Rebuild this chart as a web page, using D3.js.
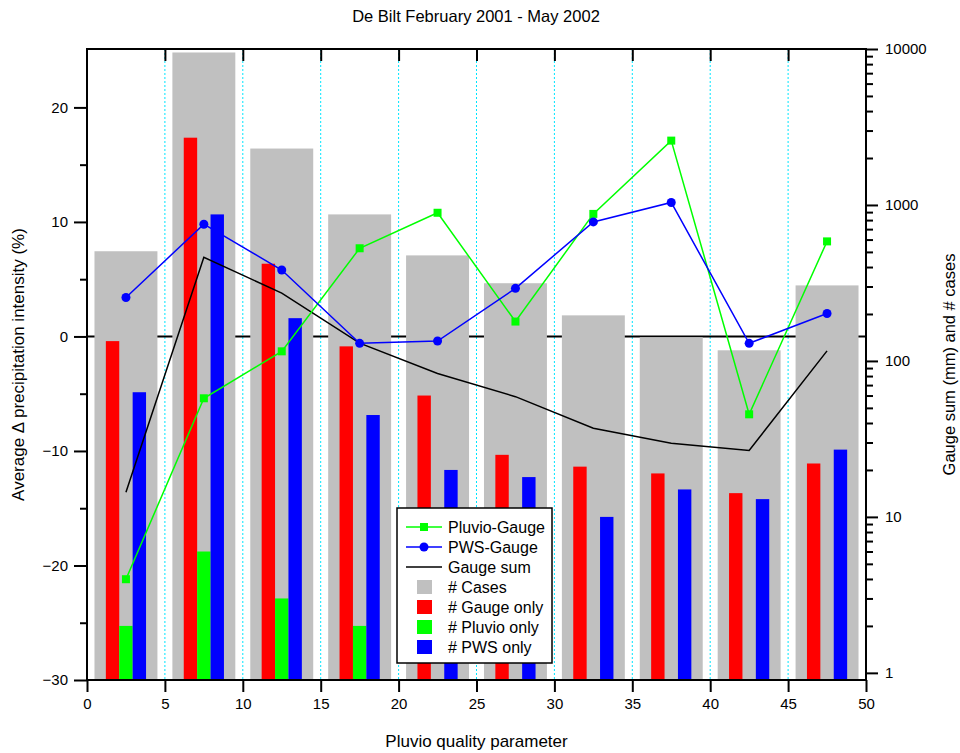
<!DOCTYPE html>
<html>
<head>
<meta charset="utf-8">
<script src="https://d3js.org/d3.v7.min.js"></script>
<style>
  body { margin: 0; background: #fff; }
  svg text { font-family: "Liberation Sans", Arial, sans-serif; fill: #000; }
</style>
</head>
<body>
<svg id="chart" width="960" height="753"></svg>
<script>
// bin centres of the quality parameter
let centers = [2.5, 7.5, 12.5, 17.5, 22.5, 27.5, 32.5, 37.5, 42.5, 47.5];

// counts (right log axis)
let cases = [505, 9500, 2300, 870, 475, 315, 196, 142, 117, 305];
let gaugeOnly = [134, 2700, 420, 124, 60, 25, 21, 19, 14.2, 22];
let pluvioOnly = [2, 6, 3, 2, 0, 0, 0, 0, 0, 0];
let pwsOnly = [63, 870, 188, 45, 20, 18, 10, 15, 13, 27];

// gauge sum in mm (right log axis)
let gaugeSum = [14.4, 462, 272, 130, 83, 59, 37, 29.7, 26.7, 116];

// average differences in % (left axis)
let pluvioGauge = [-21.2, -5.4, -1.3, 7.7, 10.8, 1.3, 10.7, 17.1, -6.8, 8.3];
let pwsGauge = [3.4, 9.8, 5.8, -0.6, -0.4, 4.2, 10.0, 11.7, -0.6, 2.0];

let xTicks = d3.range(0, 51, 5);
let leftTicks = [-30, -20, -10, 0, 10, 20];
let leftMinor = [-25, -15, -5, 5, 15];
let rightTicks = [1, 10, 100, 1000, 10000];

let svg = d3.select("#chart");
let margin = {left: 87, right: 94, top: 49, bottom: 73};
let width = 960 - margin.left - margin.right;
let height = 753 - margin.top - margin.bottom;

let g = svg.append("g").attr("transform", `translate(${margin.left},${margin.top})`);

let x = d3.scaleLinear().domain([0, 50]).range([0, width]);
let yLeft = d3.scaleLinear().domain([-30, 25.1]).range([height, 0]);
let yRight = d3.scaleLog().domain([0.9, 10000]).range([height, 0]);

// dotted grid lines
g.append("g").selectAll("line")
    .data(xTicks.filter(d => d > 0 && d < 50))
    .enter().append("line")
    .attr("x1", d => x(d)).attr("x2", d => x(d))
    .attr("y1", 0).attr("y2", height)
    .attr("stroke", "#00e5ff").attr("stroke-width", 1)
    .attr("stroke-dasharray", "2,2");

// zero line
g.append("line")
    .attr("x1", 0).attr("x2", width)
    .attr("y1", yLeft(0)).attr("y2", yLeft(0))
    .attr("stroke", "black").attr("stroke-width", 2);

// gray case bars
g.append("g").selectAll("rect")
    .data(cases)
    .enter().append("rect")
    .attr("x", (d, i) => x(centers[i] - 2.02))
    .attr("width", x(4.04) - x(0))
    .attr("y", d => yRight(d))
    .attr("height", d => height - yRight(d))
    .attr("fill", "#c0c0c0");

function drawBars(values, offset, color) {
    let barW = 0.86;
    g.append("g").selectAll("rect")
        .data(values.map((v, i) => ({v: v, c: centers[i]})).filter(d => d.v > 0))
        .enter().append("rect")
        .attr("x", d => x(d.c + offset - barW / 2))
        .attr("width", x(barW) - x(0))
        .attr("y", d => yRight(d.v))
        .attr("height", d => height - yRight(d.v))
        .attr("fill", color);
}
drawBars(gaugeOnly, -0.86, "#ff0000");
drawBars(pluvioOnly, 0, "#00ff00");
drawBars(pwsOnly, 0.86, "#0000ff");

// gauge sum line
g.append("path")
    .datum(gaugeSum)
    .attr("fill", "none").attr("stroke", "black").attr("stroke-width", 1.5)
    .attr("d", d3.line().x((d, i) => x(centers[i])).y(d => yRight(d)));

// pluvio-gauge line
g.append("path")
    .datum(pluvioGauge)
    .attr("fill", "none").attr("stroke", "#00ff00").attr("stroke-width", 1.5)
    .attr("d", d3.line().x((d, i) => x(centers[i])).y(d => yLeft(d)));
g.append("g").selectAll("rect")
    .data(pluvioGauge)
    .enter().append("rect")
    .attr("x", (d, i) => x(centers[i]) - 4)
    .attr("y", d => yLeft(d) - 4)
    .attr("width", 8).attr("height", 8)
    .attr("fill", "#00ff00");

// pws-gauge line
g.append("path")
    .datum(pwsGauge)
    .attr("fill", "none").attr("stroke", "#0000ff").attr("stroke-width", 1.5)
    .attr("d", d3.line().x((d, i) => x(centers[i])).y(d => yLeft(d)));
g.append("g").selectAll("circle")
    .data(pwsGauge)
    .enter().append("circle")
    .attr("cx", (d, i) => x(centers[i]))
    .attr("cy", d => yLeft(d))
    .attr("r", 4.5)
    .attr("fill", "#0000ff");

// axes
g.append("g")
    .attr("transform", `translate(0,${height})`)
    .call(d3.axisBottom(x).tickValues(xTicks).tickSize(12).tickPadding(6));
g.append("g")
    .call(d3.axisTop(x).tickValues(xTicks.filter(d => d > 0 && d < 50)).tickSize(-12).tickFormat(""));
g.append("g")
    .call(d3.axisLeft(yLeft).tickValues(leftTicks).tickSize(13).tickPadding(6));
g.append("g")
    .call(d3.axisLeft(yLeft).tickValues(leftMinor).tickSize(7).tickFormat(""));

let rightMinor = [];
for (let dec of [1, 10, 100, 1000]) {
    for (let k = 2; k <= 9; k++) rightMinor.push(dec * k);
}
g.append("g")
    .attr("transform", `translate(${width},0)`)
    .call(d3.axisRight(yRight).tickValues(rightTicks).tickSize(12).tickPadding(7).tickFormat(d3.format("d")));
g.append("g")
    .attr("transform", `translate(${width},0)`)
    .call(d3.axisRight(yRight).tickValues(rightMinor).tickSize(7).tickFormat(""));

g.selectAll(".domain").remove();
g.selectAll(".tick line").attr("stroke", "black").attr("stroke-width", 2);
g.selectAll(".tick text").style("font-size", "15px").attr("fill", "black");

// frame
g.append("rect")
    .attr("x", 0).attr("y", 0).attr("width", width).attr("height", height)
    .attr("fill", "none").attr("stroke", "black").attr("stroke-width", 2);

// titles
svg.append("text")
    .attr("x", 476).attr("y", 22)
    .attr("text-anchor", "middle").style("font-size", "16.5px")
    .text("De Bilt February 2001 - May 2002");
svg.append("text")
    .attr("x", margin.left + width / 2).attr("y", 747)
    .attr("text-anchor", "middle").style("font-size", "17px")
    .text("Pluvio quality parameter");
svg.append("text")
    .attr("transform", `translate(24,${margin.top + height / 2}) rotate(-90)`)
    .attr("text-anchor", "middle").style("font-size", "17px")
    .text("Average \u0394 precipitation intensity (%)");
svg.append("text")
    .attr("transform", `translate(955,${margin.top + height / 2}) rotate(-90)`)
    .attr("text-anchor", "middle").style("font-size", "16.5px")
    .text("Gauge sum (mm) and # cases");

// legend
let legendItems = [
    {label: "Pluvio-Gauge", type: "line", color: "#00ff00", marker: "square"},
    {label: "PWS-Gauge", type: "line", color: "#0000ff", marker: "circle"},
    {label: "Gauge sum", type: "line", color: "black", marker: null},
    {label: "# Cases", type: "box", color: "#c0c0c0"},
    {label: "# Gauge only", type: "box", color: "#ff0000"},
    {label: "# Pluvio only", type: "box", color: "#00ff00"},
    {label: "# PWS only", type: "box", color: "#0000ff"}
];
let legend = svg.append("g").attr("transform", "translate(397,508)");
legend.append("rect")
    .attr("width", 155).attr("height", 155)
    .attr("fill", "white").attr("stroke", "black").attr("stroke-width", 1.5);
let rows = legend.selectAll("g.item")
    .data(legendItems)
    .enter().append("g")
    .attr("class", "item")
    .attr("transform", (d, i) => `translate(0,${19 + i * 20})`);
rows.filter(d => d.type === "line").append("line")
    .attr("x1", 9).attr("x2", 45).attr("y1", 0).attr("y2", 0)
    .attr("stroke", d => d.color).attr("stroke-width", 1.5);
rows.filter(d => d.marker === "square").append("rect")
    .attr("x", 23).attr("y", -4).attr("width", 8).attr("height", 8)
    .attr("fill", d => d.color);
rows.filter(d => d.marker === "circle").append("circle")
    .attr("cx", 27).attr("cy", 0).attr("r", 4.5)
    .attr("fill", d => d.color);
rows.filter(d => d.type === "box").append("rect")
    .attr("x", 20).attr("y", -7).attr("width", 15).attr("height", 14)
    .attr("fill", d => d.color);
rows.append("text")
    .attr("x", 51).attr("y", 5.5)
    .style("font-size", "16px")
    .text(d => d.label);
</script>
</body>
</html>
